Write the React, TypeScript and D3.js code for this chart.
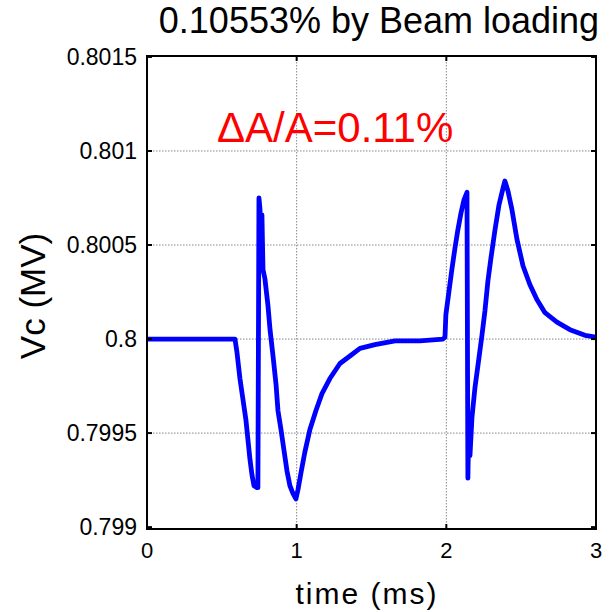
import React from "react";
import * as d3 from "d3";

const timeMs = [
  0, 0.588, 0.601, 0.621, 0.641, 0.661, 0.675, 0.688, 0.701, 0.715, 0.735, 0.741,
  0.748, 0.755, 0.762, 0.768, 0.775, 0.788, 0.808, 0.822, 0.842, 0.862, 0.875, 0.895,
  0.915, 0.935, 0.955, 0.975, 0.995, 1.009, 1.029, 1.055, 1.089, 1.129, 1.169, 1.222,
  1.289, 1.356, 1.423, 1.523, 1.657, 1.824, 1.977, 1.991, 1.997, 2.017, 2.037, 2.057,
  2.077, 2.098, 2.118, 2.138, 2.144, 2.151, 2.158, 2.171, 2.191, 2.218, 2.238, 2.258,
  2.278, 2.298, 2.325, 2.351, 2.378, 2.391, 2.411, 2.438, 2.472, 2.512, 2.558, 2.605,
  2.659, 2.739, 2.826, 2.926, 3.0,
];

const vcMV = [
  0.8, 0.8, 0.79993, 0.79979, 0.79968, 0.79957, 0.79946, 0.79936, 0.79928, 0.79922, 0.79921, 0.79921,
  0.80075, 0.80069, 0.80042, 0.80066, 0.80037, 0.80032, 0.80018, 0.80005, 0.79991, 0.79976, 0.79962, 0.79952,
  0.79941, 0.7993, 0.79922, 0.79918, 0.79915, 0.7992, 0.79929, 0.7994, 0.79952, 0.79962, 0.79971, 0.79979,
  0.79987, 0.79991, 0.79995, 0.79997, 0.79999, 0.79999, 0.8, 0.80001, 0.80013, 0.80025, 0.80037, 0.80048,
  0.80058, 0.80067, 0.80074, 0.80078, 0.79926, 0.79957, 0.79938, 0.79958, 0.79974, 0.7999, 0.80002, 0.80015,
  0.80031, 0.80043, 0.80058, 0.80071, 0.8008, 0.80084, 0.80079, 0.80069, 0.80053, 0.80039, 0.80029, 0.80021,
  0.80014, 0.80009, 0.80005, 0.80002, 0.80001,
];

const xTicks = [0, 1, 2, 3];
const xTickLabels = ["0", "1", "2", "3"];
const yTicks = [0.799, 0.7995, 0.8, 0.8005, 0.801, 0.8015];
const yTickLabels = ["0.799", "0.7995", "0.8", "0.8005", "0.801", "0.8015"];

const titleText = "0.10553% by Beam loading";
const xLabelText = "time (ms)";
const yLabelText = "Vc (MV)";
const annotationText = "ΔA/A=0.11%";

export default function App() {
  const left = 147, right = 596, top = 56, bottom = 529;
  const x = d3.scaleLinear().domain([0, 3]).range([left, right]);
  const y = d3.scaleLinear().domain([0.79899, 0.801505]).range([bottom, top]);
  const pts: [number, number][] = timeMs.map((t, i) => [t, vcMV[i]]);
  const line = d3
    .line<[number, number]>()
    .x((d) => x(d[0]))
    .y((d) => y(d[1]));
  const tickLen = 5;
  const ar = "'Liberation Sans', Arial, sans-serif";

  return (
    <svg
      width={612}
      height={612}
      style={{ position: "absolute", left: 0, top: 0, background: "#fff" }}
    >
      <rect x={0} y={0} width={612} height={612} fill="#fff" />
      <defs>
        <clipPath id="plotclip">
          <rect x={left} y={top} width={right - left} height={bottom - top} />
        </clipPath>
      </defs>
      {/* grid */}
      {xTicks
        .filter((t) => t > 0 && t < 3)
        .map((t) => (
          <line
            key={"gx" + t}
            x1={x(t)}
            x2={x(t)}
            y1={top}
            y2={bottom}
            stroke="#888"
            strokeWidth={1}
            strokeDasharray="1.5,1.5"
          />
        ))}
      {yTicks
        .filter((t) => y(t) > top + 3 && y(t) < bottom - 3)
        .map((t) => (
          <line
            key={"gy" + t}
            x1={left}
            x2={right}
            y1={y(t)}
            y2={y(t)}
            stroke="#888"
            strokeWidth={1}
            strokeDasharray="1.5,1.5"
          />
        ))}
      {/* data */}
      <path
        d={line(pts) || ""}
        fill="none"
        stroke="#0000ff"
        strokeWidth={4.8}
        strokeLinejoin="round"
        strokeLinecap="round"
        clipPath="url(#plotclip)"
      />
      {/* box */}
      <rect
        x={left}
        y={top}
        width={right - left}
        height={bottom - top}
        fill="none"
        stroke="#000"
        strokeWidth={2}
      />
      {/* ticks */}
      {xTicks.map((t) => (
        <g key={"tx" + t}>
          <line x1={x(t)} x2={x(t)} y1={bottom} y2={bottom - tickLen} stroke="#000" strokeWidth={2} />
          <line x1={x(t)} x2={x(t)} y1={top} y2={top + tickLen} stroke="#000" strokeWidth={2} />
        </g>
      ))}
      {yTicks.map((t) => (
        <g key={"ty" + t}>
          <line x1={left} x2={left + tickLen} y1={y(t)} y2={y(t)} stroke="#000" strokeWidth={2} />
          <line x1={right} x2={right - tickLen} y1={y(t)} y2={y(t)} stroke="#000" strokeWidth={2} />
        </g>
      ))}
      {/* tick labels */}
      {xTicks.map((t, i) => (
        <text
          key={"lx" + t}
          x={x(t)}
          y={558}
          textAnchor="middle"
          fontFamily={ar}
          fontSize={22}
          fill="#000"
        >
          {xTickLabels[i]}
        </text>
      ))}
      {yTicks.map((t, i) => (
        <text
          key={"ly" + t}
          x={137}
          y={y(t)}
          dy="0.36em"
          textAnchor="end"
          fontFamily={ar}
          fontSize={23}
          fill="#000"
        >
          {yTickLabels[i]}
        </text>
      ))}
      {/* annotation */}
      <text x={217} y={142} fontFamily={ar} fontSize={42} fill="#ff0000">
        {annotationText}
      </text>
      {/* title */}
      <text x={379} y={33} textAnchor="middle" fontFamily={ar} fontSize={36} fill="#000">
        {titleText}
      </text>
      {/* axis labels */}
      <text
        x={367}
        y={604}
        textAnchor="middle"
        fontFamily={ar}
        fontSize={30}
        letterSpacing={2}
        fill="#000"
      >
        {xLabelText}
      </text>
      <text
        transform={`translate(45, 296) rotate(-90)`}
        textAnchor="middle"
        fontFamily={ar}
        fontSize={35}
        fill="#000"
      >
        {yLabelText}
      </text>
    </svg>
  );
}
